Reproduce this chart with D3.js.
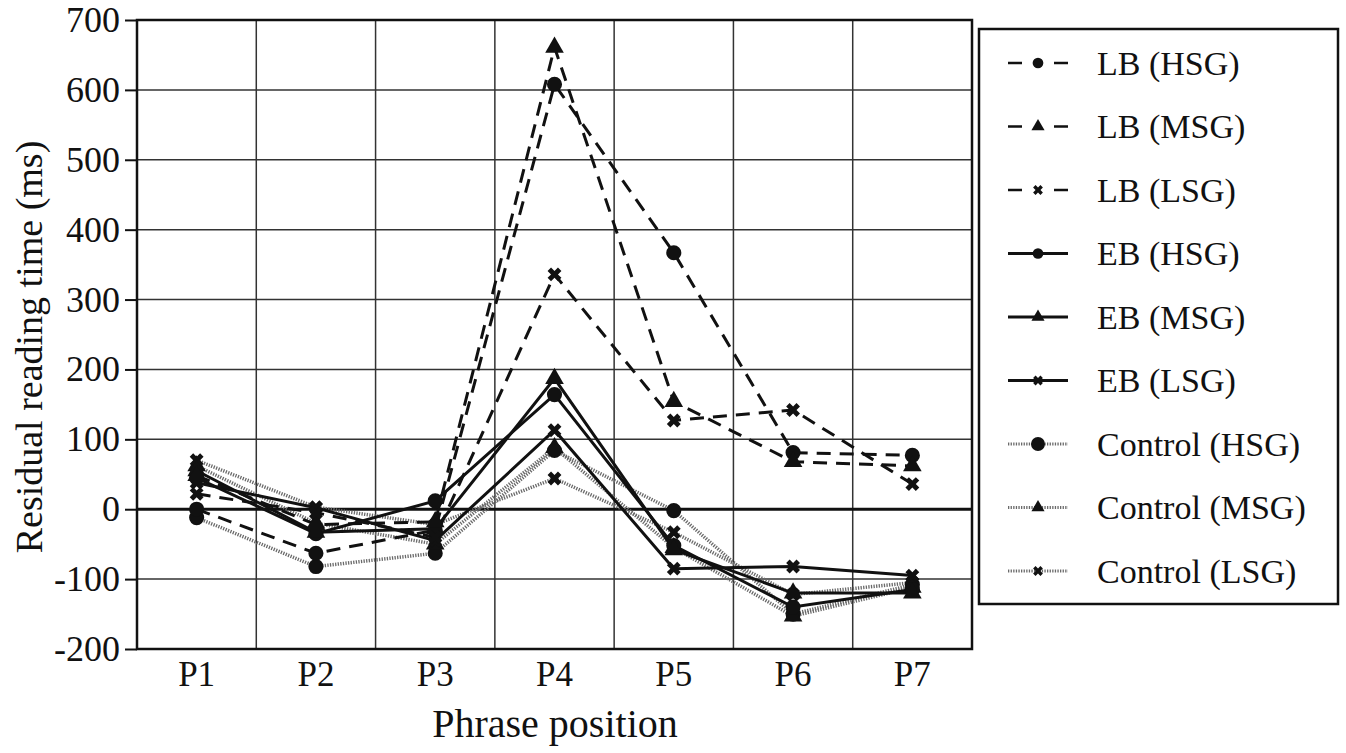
<!DOCTYPE html>
<html>
<head>
<meta charset="utf-8">
<script src="https://cdn.jsdelivr.net/npm/d3@7"></script>
<style>
  body { margin: 0; background: #fff; }
  text { font-family: "Liberation Serif", "Times New Roman", serif; fill: #111; }
</style>
</head>
<body>
<div id="graphDiv"></div>
<script>
// phrase positions on the x axis
var positions = ["P1", "P2", "P3", "P4", "P5", "P6", "P7"];
var yTicks = [-200, -100, 0, 100, 200, 300, 400, 500, 600, 700];

// residual reading times (ms)
var lbHSG = [0, -63, -30, 608, 367, 81, 77];
var lbMSG = [48, -22, -18, 661, 154, 68, 62];
var lbLSG = [22, -5, -40, 336, 127, 142, 36];
var ebHSG = [45, -35, 12, 164, -52, -140, -115];
var ebMSG = [55, -33, -28, 187, -58, -120, -120];
var ebLSG = [38, 2, -45, 113, -85, -82, -95];
var ctHSG = [-12, -82, -63, 84, -2, -150, -108];
var ctMSG = [62, -20, -50, 88, -55, -153, -112];
var ctLSG = [70, 3, -22, 44, -33, -122, -105];

var seriesNames = ["LB (HSG)", "LB (MSG)", "LB (LSG)", "EB (HSG)", "EB (MSG)", "EB (LSG)",
                   "Control (HSG)", "Control (MSG)", "Control (LSG)"];
var seriesValues = [lbHSG, lbMSG, lbLSG, ebHSG, ebMSG, ebLSG, ctHSG, ctMSG, ctLSG];
var lineKinds = ["dash", "dash", "dash", "solid", "solid", "solid", "dot", "dot", "dot"];
var markerKinds = ["circle", "triangle", "cross", "circle", "triangle", "cross", "circle", "triangle", "cross"];

var series = seriesNames.map(function(n, i) {
  return {name: n, values: seriesValues[i], line: lineKinds[i], marker: markerKinds[i]};
});

var outerWidth = 1346, outerHeight = 753;
var margin = {top: 20, left: 137},
    innerWidth = 835,
    innerHeight = 629;

var svg = d3.select("#graphDiv").append("svg")
    .attr("width", outerWidth)
    .attr("height", outerHeight);

var g = svg.append("g")
    .attr("transform", "translate(" + margin.left + "," + margin.top + ")");

var x = d3.scaleBand().domain(positions).range([0, innerWidth]);
var y = d3.scaleLinear().domain([-200, 700]).range([innerHeight, 0]);
var cx = function(d) { return x(d) + x.bandwidth() / 2; };

// grid
g.selectAll(".hgrid").data(yTicks).enter().append("line")
    .attr("x1", 0).attr("x2", innerWidth)
    .attr("y1", function(d) { return y(d); }).attr("y2", function(d) { return y(d); })
    .attr("stroke", "#333").attr("stroke-width", 1.5);
g.selectAll(".vgrid").data(positions.slice(1)).enter().append("line")
    .attr("x1", function(d) { return x(d); }).attr("x2", function(d) { return x(d); })
    .attr("y1", 0).attr("y2", innerHeight)
    .attr("stroke", "#333").attr("stroke-width", 1.5);

// zero line
g.append("line")
    .attr("x1", 0).attr("x2", innerWidth)
    .attr("y1", y(0)).attr("y2", y(0))
    .attr("stroke", "#111").attr("stroke-width", 3);

// axes (plain hyphen for negatives, as in the original)
var yAxis = g.append("g")
    .attr("font-family", "Liberation Serif, serif")
    .call(d3.axisLeft(y).tickValues(yTicks).tickSize(12).tickPadding(5)
      .tickFormat(function(d) { return String(d); }))
    .attr("font-size", 36);
yAxis.select(".domain").remove();
yAxis.selectAll("line").attr("stroke", "#111").attr("stroke-width", 2);

var xAxis = g.append("g").attr("transform", "translate(0," + innerHeight + ")")
    .call(d3.axisBottom(x).tickSize(0).tickPadding(12))
    .attr("font-size", 35);
xAxis.select(".domain").remove();

// border
g.append("rect")
    .attr("width", innerWidth).attr("height", innerHeight)
    .attr("fill", "none").attr("stroke", "#111").attr("stroke-width", 2.5);

// line styles
function styleLine(sel, kind) {
  if (kind === "dash") {
    sel.attr("stroke", "#111").attr("stroke-width", 3).attr("stroke-dasharray", "14,9");
  } else if (kind === "solid") {
    sel.attr("stroke", "#111").attr("stroke-width", 3);
  } else {
    sel.attr("stroke", "#6a6a6a").attr("stroke-width", 3.5).attr("stroke-dasharray", "1.3,1.3");
  }
  return sel;
}

var symbolFor = {
  circle: d3.symbolCircle,
  triangle: d3.symbolTriangle,
  cross: d3.symbolCross
};

function drawMarker(sel, kind, scale) {
  var sizes = {circle: 180, triangle: 150, cross: 120};
  sel.append("path")
    .attr("d", d3.symbol().type(symbolFor[kind]).size(sizes[kind] * scale))
    .attr("fill", "#111")
    .attr("transform", kind === "cross" ? "rotate(45)" : null);
}

var line = d3.line()
    .x(function(d, i) { return cx(positions[i]); })
    .y(function(d) { return y(d); });

// draw dotted first, then solid, then dashed
var order = [6, 7, 8, 3, 4, 5, 0, 1, 2];
order.forEach(function(si) {
  var s = series[si];
  styleLine(g.append("path").datum(s.values).attr("d", line).attr("fill", "none"), s.line);
});
order.forEach(function(si) {
  var s = series[si];
  var pts = g.selectAll(".pt" + si).data(s.values).enter().append("g")
      .attr("transform", function(d, i) { return "translate(" + cx(positions[i]) + "," + y(d) + ")"; });
  drawMarker(pts, s.marker, 1);
});

// axis titles
svg.append("text")
    .attr("transform", "translate(42,347) rotate(-90)")
    .attr("text-anchor", "middle")
    .attr("font-size", 38)
    .text("Residual reading time (ms)");
svg.append("text")
    .attr("x", 555)
    .attr("y", 737)
    .attr("text-anchor", "middle")
    .attr("font-size", 40)
    .text("Phrase position");

// legend
var legend = svg.append("g").attr("transform", "translate(979,29)");
legend.append("rect")
    .attr("width", 359).attr("height", 575)
    .attr("fill", "#fff").attr("stroke", "#111").attr("stroke-width", 2.5);

var rows = legend.selectAll(".row").data(series).enter().append("g")
    .attr("transform", function(d, i) { return "translate(0," + (34 + i * 63.5) + ")"; });

rows.each(function(d) {
  var r = d3.select(this);
  var ln = r.append("line").attr("x1", 29).attr("x2", 89).attr("y1", 0).attr("y2", 0);
  if (d.line === "dash") {
    ln.attr("stroke", "#111").attr("stroke-width", 2.5).attr("stroke-dasharray", "14,32,14");
  } else if (d.line === "solid") {
    ln.attr("stroke", "#111").attr("stroke-width", 3);
  } else {
    ln.attr("stroke", "#6a6a6a").attr("stroke-width", 3).attr("stroke-dasharray", "1.3,1.3");
  }
  var m = r.append("g").attr("transform", "translate(59,0)");
  var sc = (d.line === "dot" && d.marker === "circle") ? 0.85 : 0.5;
  drawMarker(m, d.marker, sc);
  r.append("text").attr("x", 118).attr("dy", "0.35em")
      .attr("font-size", 34).text(d.name);
});
</script>
</body>
</html>
